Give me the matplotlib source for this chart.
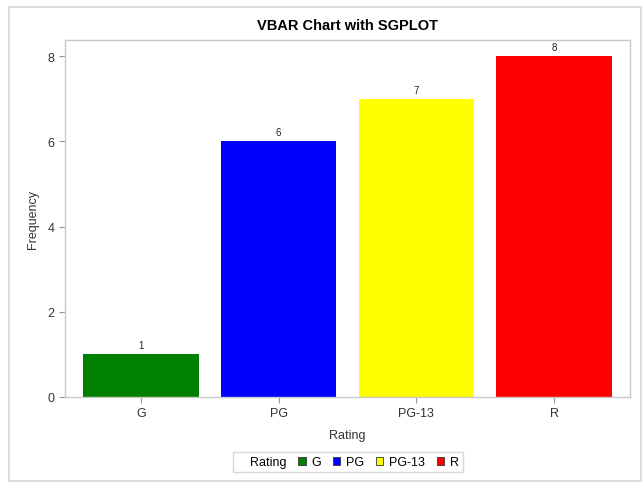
import matplotlib.pyplot as plt
from matplotlib.patches import Patch, Rectangle

plt.rcParams['font.family'] = ['Liberation Sans', 'DejaVu Sans']

ratings = ['G', 'PG', 'PG-13', 'R']
counts = [1, 6, 7, 8]
colors = ['#008000', '#0000ff', '#ffff00', '#ff0000']

fig = plt.figure(figsize=(6.42, 4.85), dpi=100)
ax = fig.add_axes([65/642, 1-398/485, (630-65)/642, (398-41)/485])

x = range(len(ratings))
bars = ax.bar(x, counts, width=0.84, color=colors)
for b, c in zip(bars, counts):
    ax.text(b.get_x() + b.get_width()/2, c + 0.1, str(c), ha='center', va='bottom',
            fontsize=7, color='#222222')

ax.set_xlim(-0.55, 3.55)
ax.set_ylim(0, 8.38)
ax.set_xticks(list(x))
ax.set_xticklabels(ratings)
ax.set_yticks([0, 2, 4, 6, 8])
ax.tick_params(colors='#999999', labelcolor='#333333', labelsize=9, length=4, width=0.8)
for s in ax.spines.values():
    s.set_color('#c8c8c8')
    s.set_linewidth(1)
ax.set_xlabel('Rating', fontsize=9, color='#333333', labelpad=7)
ax.set_ylabel('Frequency', fontsize=9, color='#333333', labelpad=6)
ax.set_title('VBAR Chart with SGPLOT', fontsize=10.5, fontweight='bold', pad=8)

handles = [Patch(visible=False)] + [Patch(facecolor=c, edgecolor='#333333', linewidth=0.6) for c in colors]
labels = ['Rating'] + ratings
leg = fig.legend(handles, labels, loc='center', bbox_to_anchor=(0.542, 1-463/485), ncol=5,
                 fontsize=9, handlelength=0.6, handleheight=0.6, handletextpad=0.5,
                 columnspacing=0.9, frameon=True, fancybox=False, borderpad=0.3)
leg.get_frame().set_edgecolor('#d0d0d0')
leg.get_frame().set_linewidth(1)

fig.patches.append(Rectangle((9/642, 3/485), 632/642, 474/485, transform=fig.transFigure,
                             fill=False, edgecolor='#d8d8d8', linewidth=1.2))

fig.savefig('out.png', dpi=100)
